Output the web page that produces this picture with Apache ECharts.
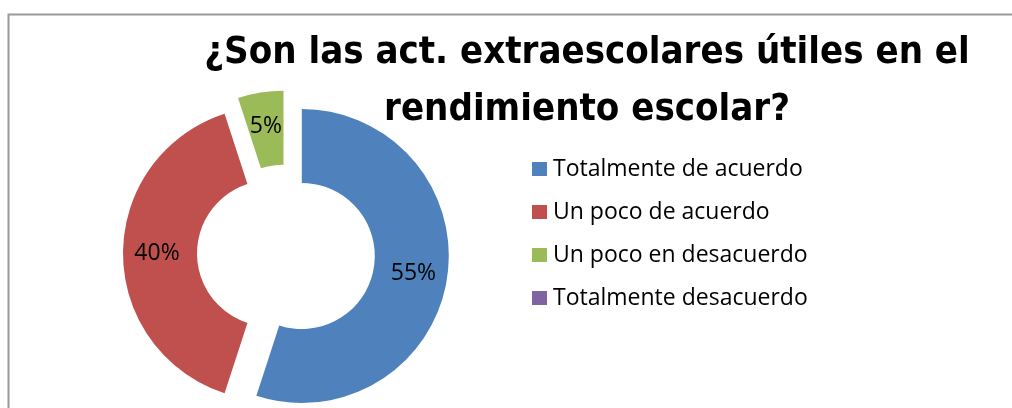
<!DOCTYPE html>
<html>
<head>
<meta charset="utf-8">
<script src="https://cdn.jsdelivr.net/npm/echarts@6/dist/echarts.min.js"></script>
<style>html,body{margin:0;padding:0;background:#fff;}#c{width:1012px;height:408px;}</style>
</head>
<body>
<div id="c"></div>
<script>
const titleText = '¿Son las act. extraescolares útiles en el\nrendimiento escolar?';
const categories = ['Totalmente de acuerdo', 'Un poco de acuerdo', 'Un poco en desacuerdo', 'Totalmente desacuerdo'];
const values = [55, 40, 5, 0];
const colors = ['#4F81BD', '#C0504D', '#9BBB59', '#8064A2'];

const chart = echarts.init(document.getElementById('c'), null, {renderer: 'canvas'});
chart.setOption({
  animation: false,
  backgroundColor: '#fff',
  color: colors,
  title: {
    text: titleText,
    left: 587,
    top: 25,
    padding: 0,
    textAlign: 'center',
    textStyle: {
      fontFamily: "'Liberation Sans Narrow', 'DejaVu Sans Condensed', Roboto",
      fontWeight: 'bold',
      fontSize: 38,
      lineHeight: 57,
      color: '#000'
    }
  },
  graphic: [{
    type: 'rect',
    shape: {x: 8.5, y: 14.5, width: 1100, height: 500},
    style: {fill: 'none', stroke: '#9a9a9a', lineWidth: 2},
    silent: true,
    z: -1
  }],
  legend: {
    orient: 'vertical',
    left: 532,
    top: 157.5,
    padding: 0,
    itemWidth: 15,
    itemHeight: 14,
    itemGap: 20,
    icon: 'rect',
    selectedMode: false,
    data: categories,
    textStyle: {fontFamily: "'Open Sans'", fontSize: 23, color: '#000', padding: [0, 0, 0, 1]}
  },
  series: [{
    type: 'pie',
    center: [286, 253.5],
    radius: [73, 147],
    startAngle: 90,
    clockwise: true,
    selectedMode: 'multiple',
    selectedOffset: 16,
    avoidLabelOverlap: false,
    label: {
      show: true,
      position: 'inside',
      formatter: '{d}%',
      fontFamily: "'Open Sans'",
      fontSize: 23,
      color: '#000'
    },
    labelLine: {show: false},
    emphasis: {disabled: true},
    data: categories.map((name, i) => ({
      name: name,
      value: values[i],
      selected: true,
      label: {show: values[i] > 0}
    }))
  }]
});
</script>
</body>
</html>
